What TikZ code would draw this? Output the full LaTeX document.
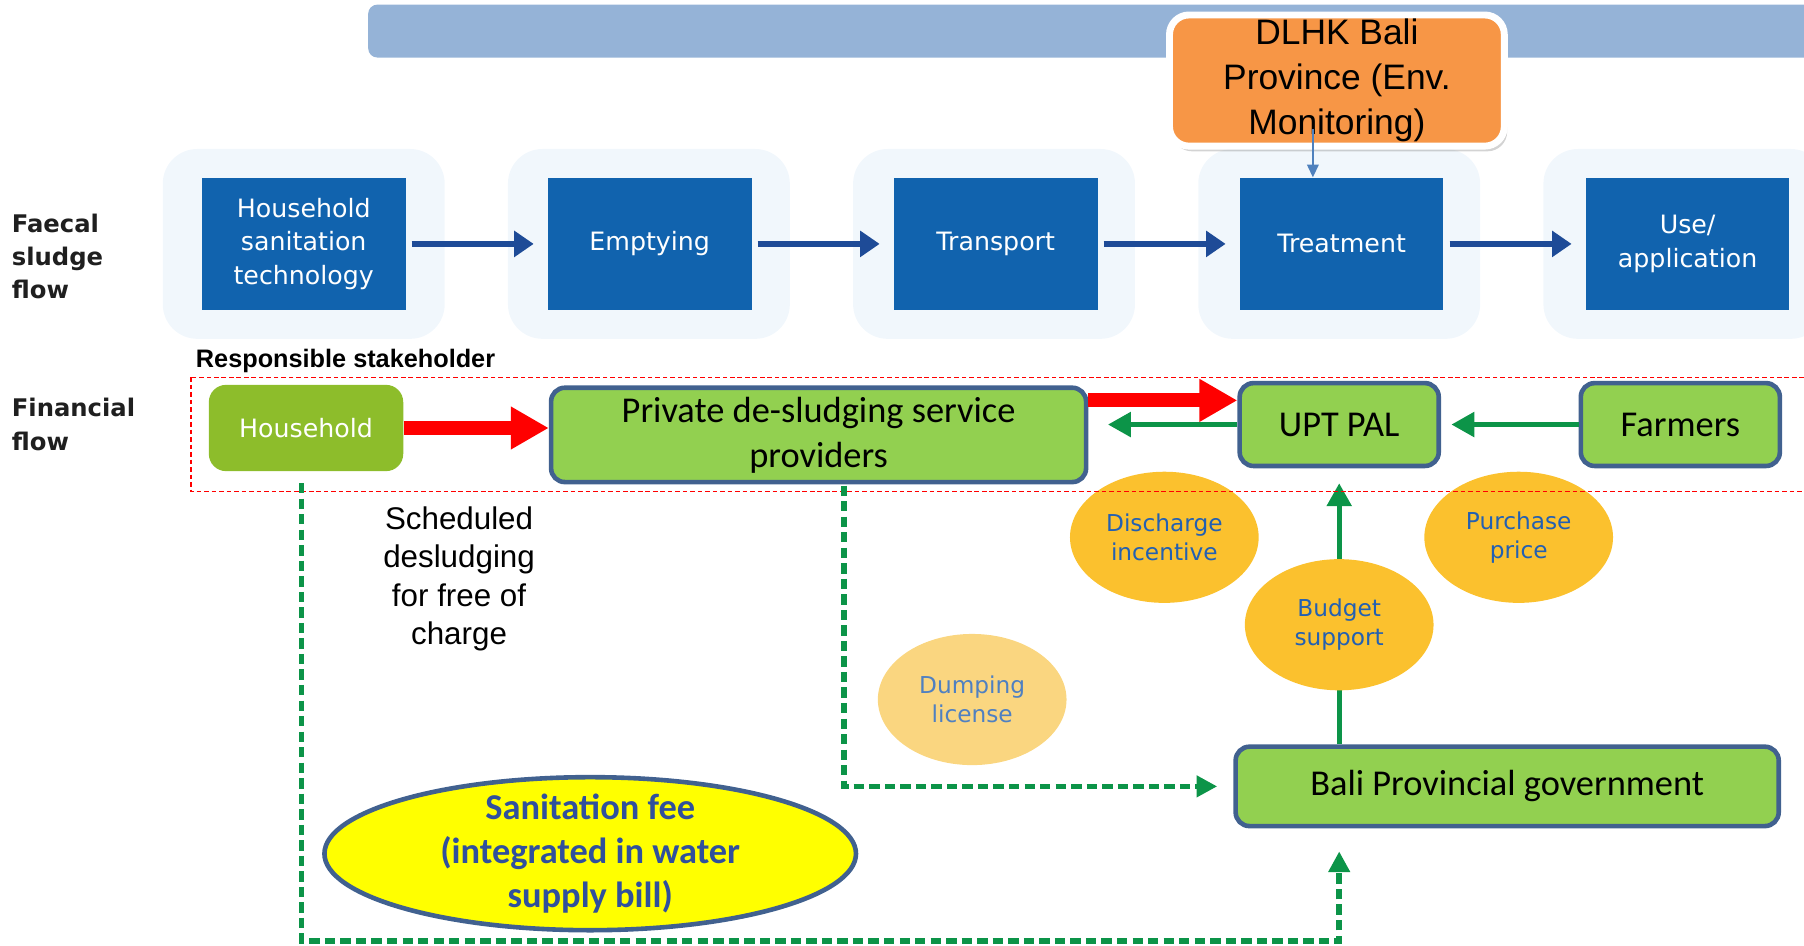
\documentclass[tikz,border=0pt]{standalone}
\usepackage{fontspec}
\setmainfont{Liberation Sans}
\newfontfamily\tahoma{DejaVu Sans}
\newfontfamily\calibri{Carlito}
\usepackage{xcolor}
\usetikzlibrary{shapes.geometric, arrows.meta, positioning, shadows}

\definecolor{barblue}{HTML}{95B3D7}
\definecolor{monorange}{HTML}{F79646}
\definecolor{monblue}{HTML}{4F81BD}
\definecolor{stageblue}{HTML}{1163AE}
\definecolor{glowblue}{HTML}{F1F7FC}
\definecolor{flownavy}{HTML}{1E4B97}
\definecolor{homegreen}{HTML}{8DBD2B}
\definecolor{actorgreen}{HTML}{92D050}
\definecolor{actorrim}{HTML}{41618F}
\definecolor{cashgreen}{HTML}{0C9448}
\definecolor{coinyellow}{HTML}{FBC12E}
\definecolor{coinpale}{HTML}{FAD680}
\definecolor{cointext}{HTML}{2360B2}
\definecolor{feeyellow}{HTML}{FFFF00}
\definecolor{feetext}{HTML}{30509C}

\begin{document}
\begin{tikzpicture}[x=0.2mm, y=-0.2mm, node distance=24.6mm,
  stagebox/.style={fill=stageblue, text=white, minimum width=35.4mm, minimum height=23mm, inner sep=1mm, align=center, font=\tahoma\fontsize{12.5}{16.5}\selectfont},
  glowbox/.style={fill=glowblue, rounded corners=6mm, minimum width=49mm, minimum height=33mm},
  sidelabel/.style={anchor=west, inner sep=0pt, align=left, text=black!88, font=\tahoma\bfseries\fontsize{12}{16.5}\selectfont},
  actorbox/.style={draw=actorrim, line width=0.8mm, fill=actorgreen, rounded corners=2.4mm, inner sep=0pt, align=center, font=\calibri\fontsize{18}{22.2}\selectfont},
  coin/.style={ellipse, fill=coinyellow, minimum width=32.8mm, minimum height=22.8mm, inner sep=0pt, align=center, text=cointext, font=\tahoma\fontsize{11.5}{14.2}\selectfont},
  stageflow/.style={-{Triangle[length=3.4mm, width=4.4mm]}, line width=1.1mm, draw=flownavy, shorten <=1mm, shorten >=2.4mm},
  payflow/.style={-{Triangle[length=6.6mm, width=7mm]}, line width=2.4mm, draw=red},
  cashflow/.style={-{Triangle[length=4mm, width=4.2mm]}, line width=0.9mm, draw=cashgreen},
  feeflow/.style={-{Triangle[length=3.6mm, width=3.6mm]}, line width=1mm, draw=cashgreen, dash pattern=on 1.8mm off 0.9mm}]
  \useasboundingbox (0,0) rectangle (1568,822);

  % top band and glow behind the sludge chain
  \fill[barblue, rounded corners=1.6mm] (320,4) rectangle (1600,50);
  \node (glowA) [glowbox] at (264,212) {};
  \node (glowB) [glowbox] at (564,212) {};
  \node (glowC) [glowbox] at (864,212) {};
  \node (glowD) [glowbox] at (1164,212) {};
  \node (glowE) [glowbox] at (1464,212) {};

  % faecal sludge flow
  \node (hst) [stagebox] at (264,212) {Household\\sanitation\\technology};
  \node (empty) [stagebox, right=of hst] {Emptying};
  \node (transport) [stagebox, right=of empty] {Transport};
  \node (treat) [stagebox, right=of transport] {Treatment};
  \node (use) [stagebox, right=of treat] {Use/\\application};

  \node (dlhk) [fill=monorange, draw=white, line width=1.2mm, rounded corners=3.4mm, minimum width=58.2mm, minimum height=22.8mm, inner sep=0pt, align=center,
    drop shadow={opacity=0.35, shadow xshift=0.5mm, shadow yshift=-0.9mm}, font=\fontsize{17.5}{22.2}\selectfont] at (1162,70)
    {\raisebox{-0.6mm}{\parbox{56mm}{\centering DLHK Bali\\Province (Env.\\Monitoring)}}};
  \path (treat.north |- dlhk.south) ++(-25,-18) coordinate (montop);
  \draw [monblue, line width=0.3mm, -{Triangle[length=2.2mm, width=2mm]}] (montop) -- (montop |- treat.north);

  % row labels
  \node (sludgelbl) [sidelabel] at (10,223) {Faecal\\sludge\\flow};
  \node (finlbl) [sidelabel] at (10,369) {Financial\\flow};
  \node (resplbl) [anchor=west, inner sep=0pt, font=\bfseries\fontsize{12.5}{15}\selectfont] at (170,314) {Responsible stakeholder};

  % financial flow
  \node (house) [fill=homegreen, rounded corners=3mm, minimum width=33.8mm, minimum height=15mm, text=white, font=\tahoma\fontsize{12.5}{15}\selectfont] at (266,372) {Household};
  \node (private) [actorbox, minimum width=93mm, minimum height=16.4mm] at (711.5,378) {Private de-sludging service\\providers};
  \node (upt) [actorbox, minimum width=34.6mm, minimum height=14.4mm] at (1164,369) {UPT PAL};
  \node (farmers) [actorbox, minimum width=34.6mm, minimum height=14.4mm] at (1460.5,369) {Farmers};
  \node (bali) [actorbox, minimum width=94.4mm, minimum height=13.8mm] at (1310,683.5) {Bali Provincial government};

  \draw [cashflow, shorten >=2.6mm] (upt.south |- bali.north) -- (upt.south);

  \node (discharge) [coin] at (1012,467) {Discharge\\incentive};
  \node (purchase) [coin] at (1320,467) {Purchase\\price};
  \node (budget) [coin] at (1164,543) {Budget\\support};
  \node (dumping) [coin, fill=coinpale, text=cointext!80] at (845,608) {Dumping\\license};

  \draw [red, line width=0.25mm, dash pattern=on 0.8mm off 0.5mm] (166,328) rectangle (1600,427);

  \node (sched) [align=center, font=\fontsize{15.5}{19}\selectfont] at (399,503) {Scheduled\\desludging\\for free of\\charge};

  \node (fee) [ellipse, draw=actorrim, line width=0.8mm, fill=feeyellow, minimum width=92.4mm, minimum height=26.6mm, inner xsep=0pt, inner ysep=-1.4mm, align=center, text=feetext,
    font=\calibri\bfseries\fontsize{18}{21.6}\selectfont] at (513,742) {Sanitation fee\\(integrated in water\\supply bill)};

  \draw [stageflow] (hst) -- (empty);
  \draw [stageflow] (empty) -- (transport);
  \draw [stageflow] (transport) -- (treat);
  \draw [stageflow] (treat) -- (use);

  \draw [payflow] (house.east) -- (private.west |- house.east);
  \coordinate (uptin) at ([yshift=4.2mm]upt.west);
  \draw [payflow] (private.east |- uptin) -- (uptin);
  \draw [cashflow, shorten >=3.4mm] (upt.west) -- (private.east |- upt.west);
  \draw [cashflow, shorten >=1.8mm] (farmers.west) -- (upt.east);

  \coordinate (feelow) at (0,818);
  \draw [feeflow, shorten <=2mm, shorten >=4mm] ([xshift=-0.8mm]house.south) |- (upt.south |- feelow) -- (upt.south |- bali.south);
  \draw [feeflow, shorten <=0.2mm, shorten >=2.8mm] ([xshift=4.4mm]private.south) |- (bali.west);
\end{tikzpicture}
\end{document}
